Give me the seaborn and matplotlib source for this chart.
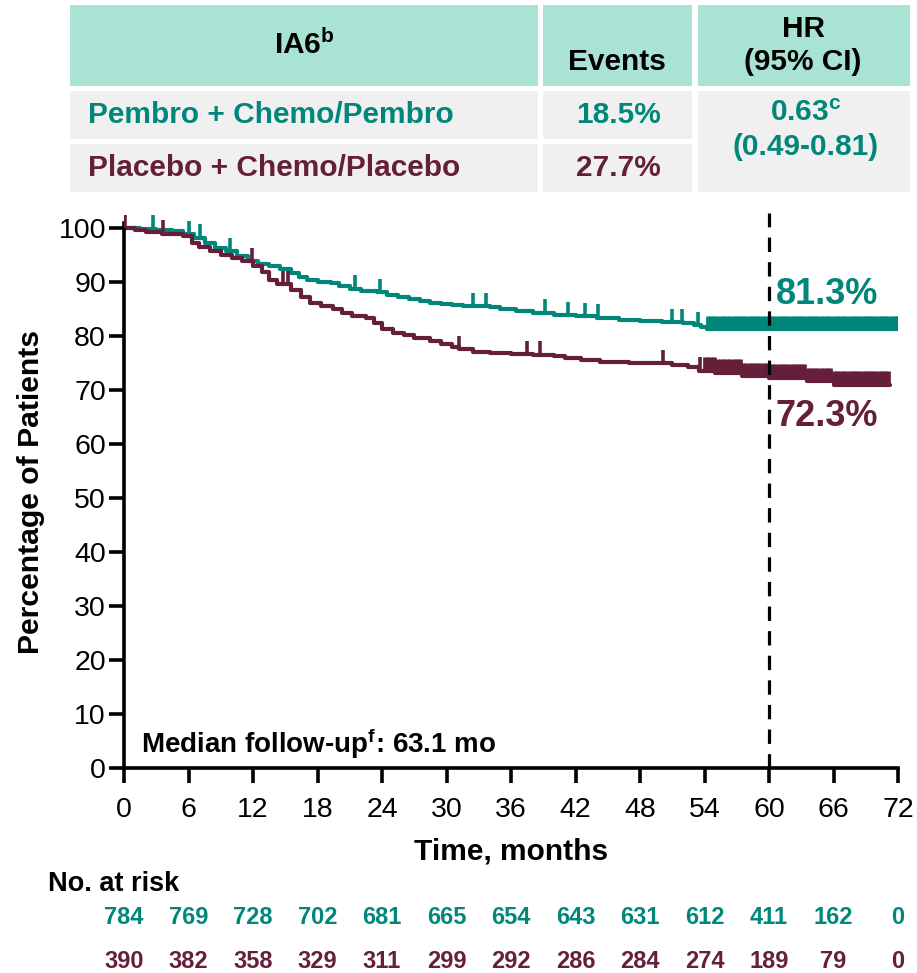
import numpy as np
import pandas as pd
import matplotlib
matplotlib.use("Agg")
import matplotlib.pyplot as plt
import matplotlib.transforms as mtrans
from matplotlib.patches import Rectangle
import seaborn as sns

# ---------------- data ----------------
arms = ["Pembro + Chemo/Pembro", "Placebo + Chemo/Placebo"]
events = ["18.5%", "27.7%"]
hr_text = "0.63"
hr_ci = "(0.49-0.81)"
landmark_labels = ["81.3%", "72.3%"]

pembro_t = [0, 1.5, 3, 4.5, 5.5, 6.5, 7.5, 8.5, 9.5, 10.5, 11.5, 12.5, 13.5, 14.5,
            15.5, 16.3, 17, 18, 19.3, 20, 21, 22, 23.5, 24.5, 25.5, 26.5, 27.5,
            28.5, 29.5, 30.5, 31.5, 32.5, 34, 35, 36.5, 38, 40, 42, 44, 46, 48,
            50, 52, 53, 53.7, 54.2, 72]
pembro_s = [100, 99.9, 99.7, 99.4, 98.9, 98.2, 97.3, 96.4, 95.7, 94.8, 94.0, 93.4,
            93.0, 92.5, 91.7, 90.9, 90.3, 90.1, 89.8, 89.3, 88.8, 88.4, 88.1, 87.6,
            87.2, 86.9, 86.5, 86.2, 86.0, 85.8, 85.6, 85.5, 85.3, 85.0, 84.6, 84.3,
            83.9, 83.7, 83.4, 83.0, 82.8, 82.6, 82.4, 82.0, 81.6, 81.3, 81.3]

placebo_t = [0, 1, 2, 3.5, 5.5, 6.3, 7, 8, 9, 10, 11, 12, 12.8, 13.5, 14.2, 15.5,
             16.5, 17.3, 18.3, 19.4, 20.3, 21.2, 22.5, 23.3, 24, 25, 26, 27, 28.5,
             29.5, 30.5, 31.2, 32.5, 34, 36, 38, 40, 41, 42.5, 44.3, 47, 49, 51,
             52.5, 53.5, 55, 57.5, 60, 63.5, 66, 71.3]
placebo_s = [100, 99.6, 99.3, 99.0, 98.6, 97.2, 96.5, 95.7, 95.0, 94.4, 93.9, 93.0,
             91.8, 90.4, 89.6, 88.6, 87.3, 86.2, 85.6, 85.0, 84.3, 83.7, 83.3, 82.4,
             81.4, 80.6, 80.2, 79.6, 79.0, 78.6, 78.0, 77.6, 77.1, 76.8, 76.6, 76.5,
             76.3, 75.9, 75.5, 75.2, 75.1, 75.0, 74.6, 74.2, 73.6, 73.2, 72.6, 72.3,
             71.6, 71.0, 71.0]

pembro_cens_sparse = [2.7, 6.0, 7.1, 9.9, 21.5, 23.8, 32.5, 33.7, 39.2, 41.3, 42.9,
                      44.1, 51.0, 51.9, 53.4]
pembro_cens_dense = [54.3, 54.6, 54.9, 55.2, 55.5, 55.8, 56.1, 56.4, 56.7, 57.0,
                     57.3, 57.6, 57.9, 58.2, 58.5, 58.8, 59.1, 59.4, 59.7, 60.0,
                     60.3, 60.6, 60.9, 61.2, 61.5, 61.8, 62.1, 62.4, 62.7, 63.0,
                     63.3, 63.6, 63.9, 64.2, 64.5, 64.8, 65.1, 65.4, 65.7, 66.0,
                     66.3, 66.6, 66.9, 67.2, 67.5, 67.8, 68.1, 68.4, 68.7, 69.0,
                     69.3, 69.6, 69.9, 70.2, 70.5, 70.8, 71.1, 71.4, 71.7, 71.9]
placebo_cens_sparse = [0.1, 3.6, 11.9, 14.8, 15.3, 31.2, 37.5, 38.7, 50.1, 53.6]
placebo_cens_dense = [54.0, 54.3, 54.6, 54.9, 55.2, 55.5, 55.8, 56.1, 56.4, 56.7,
                      57.0, 57.3, 57.6, 57.9, 58.2, 58.5, 58.8, 59.1, 59.4, 59.7,
                      60.0, 60.3, 60.6, 60.9, 61.2, 61.5, 61.8, 62.1, 62.4, 62.7,
                      63.0, 63.3, 63.6, 63.9, 64.2, 64.5, 64.8, 65.1, 65.4, 65.7,
                      66.0, 66.3, 66.6, 66.9, 67.2, 67.5, 67.8, 68.1, 68.4, 68.7,
                      69.0, 69.3, 69.6, 69.9, 70.2, 70.5, 70.8, 71.1]

risk_times = [0, 6, 12, 18, 24, 30, 36, 42, 48, 54, 60, 66, 72]
pembro_risk = [784, 769, 728, 702, 681, 665, 654, 643, 631, 612, 411, 162, 0]
placebo_risk = [390, 382, 358, 329, 311, 299, 292, 286, 284, 274, 189, 79, 0]

y_ticks = [0, 10, 20, 30, 40, 50, 60, 70, 80, 90, 100]

# ---------------- style ----------------
TEAL = "#00877A"
MAROON = "#661F3A"
HEAD = "#A8E3D3"
BODY = "#F0F0F0"

sns.set_theme(style="white")
plt.rcParams["font.family"] = ["Liberation Sans", "DejaVu Sans"]
plt.rcParams["mathtext.fontset"] = "custom"
plt.rcParams["mathtext.rm"] = "Liberation Sans:bold"
plt.rcParams["mathtext.bf"] = "Liberation Sans:bold"
plt.rcParams["mathtext.it"] = "Liberation Sans:bold"
plt.rcParams["mathtext.default"] = "bf"

W, H = 917, 973
fig = plt.figure(figsize=(W / 100, H / 100), dpi=100)


def fx(px):
    return px / W


def fy(py):
    return 1 - py / H


# ---------------- top table ----------------
cells = [
    (70, 5, 538, 86, HEAD), (543, 5, 692, 86, HEAD), (698, 5, 910, 86, HEAD),
    (70, 91, 538, 139, BODY), (543, 91, 692, 139, BODY),
    (70, 144, 538, 192, BODY), (543, 144, 692, 192, BODY),
    (698, 91, 910, 192, BODY),
]
for x0, y0, x1, y1, c in cells:
    fig.add_artist(Rectangle((fx(x0), fy(y1)), fx(x1) - fx(x0), fy(y0) - fy(y1),
                             transform=fig.transFigure, facecolor=c,
                             edgecolor="none", zorder=0))

tkw = dict(fontsize=21.5, fontweight="bold", transform=fig.transFigure)
fig.text(fx(304), fy(45), r"IA6$^{\mathbf{b}}$", ha="center", va="center",
         color="black", **tkw)
fig.text(fx(617), fy(62), "Events", ha="center", va="center", color="black", **tkw)
fig.text(fx(803), fy(29), "HR", ha="center", va="center", color="black", **tkw)
fig.text(fx(803), fy(62), "(95% CI)", ha="center", va="center", color="black", **tkw)
fig.text(fx(88), fy(115), arms[0], ha="left", va="center", color=TEAL, **tkw)
fig.text(fx(88), fy(168), arms[1], ha="left", va="center", color=MAROON, **tkw)
fig.text(fx(618), fy(115), events[0], ha="center", va="center", color=TEAL, **tkw)
fig.text(fx(618), fy(168), events[1], ha="center", va="center", color=MAROON, **tkw)
fig.text(fx(806), fy(113), hr_text + r"$^{\mathbf{c}}$", ha="center", va="center",
         color=TEAL, **tkw)
fig.text(fx(806), fy(147), hr_ci, ha="center", va="center", color=TEAL, **tkw)

# ---------------- KM axes ----------------
ax_left, ax_right, ax_top, ax_bottom = 124, 898, 213, 768
ax = fig.add_axes([fx(ax_left), fy(ax_bottom), fx(ax_right) - fx(ax_left),
                   fy(ax_top) - fy(ax_bottom)])
ax.set_facecolor("none")

df = pd.concat([
    pd.DataFrame({"time": pembro_t, "surv": pembro_s, "arm": arms[0]}),
    pd.DataFrame({"time": placebo_t, "surv": placebo_s, "arm": arms[1]}),
])
sns.lineplot(data=df, x="time", y="surv", hue="arm", palette=[TEAL, MAROON],
             estimator=None, sort=False, drawstyle="steps-post", linewidth=3.0,
             legend=False, ax=ax)


def step_value(ts, ss, t):
    i = np.searchsorted(np.asarray(ts), t, side="right") - 1
    return np.asarray(ss)[i]


for ts, ss, cens, col, lw in [
        (pembro_t, pembro_s, pembro_cens_sparse, TEAL, 2.6),
        (pembro_t, pembro_s, pembro_cens_dense, TEAL, 3.4),
        (placebo_t, placebo_s, placebo_cens_sparse, MAROON, 2.6),
        (placebo_t, placebo_s, placebo_cens_dense, MAROON, 3.4)]:
    cens = np.asarray(cens)
    base = step_value(ts, ss, cens)
    ax.vlines(cens, base, base + 2.5, colors=col, linewidth=lw, zorder=3)

ax.axvline(60, color="black", linewidth=2.3, dashes=(4.5, 3.2), zorder=4)

ax.set_xlim(0, 72)
ax.set_ylim(0, 102.8)
ax.set_xticks(risk_times)
ax.set_yticks(y_ticks)
ax.set_xticklabels([str(t) for t in risk_times], fontsize=20.5)
ax.set_yticklabels([str(v) for v in y_ticks], fontsize=20.5)
ax.tick_params(axis="both", direction="out", length=11, width=2.6, color="black",
               labelcolor="black", bottom=True, left=True)
ax.tick_params(axis="x", pad=10)
ax.tick_params(axis="y", pad=2)
for side in ["top", "right"]:
    ax.spines[side].set_visible(False)
for side in ["left", "bottom"]:
    ax.spines[side].set_color("black")
    ax.spines[side].set_linewidth(2.6)
ax.spines["left"].set_bounds(0, 101)
ax.set_xlabel("")
ax.set_ylabel("")

fig.text(fx(31), fy(492), "Percentage of Patients", rotation=90, ha="center",
         va="center", fontsize=21.7, fontweight="bold", color="black")
fig.text(fx(511), fy(852), "Time, months", ha="center", va="center",
         fontsize=21.5, fontweight="bold", color="black")
fig.text(fx(48), fy(884), "No. at risk", ha="left", va="center",
         fontsize=19.5, fontweight="bold", color="black")
ax.text(1.6, 4.4, r"Median follow-up$^{\mathbf{f}}$: 63.1 mo", ha="left",
        va="center", fontsize=20, fontweight="bold", color="black")

ax.text(60.6, step_value(pembro_t, pembro_s, 60) + 6.4, landmark_labels[0],
        ha="left", va="center", fontsize=26, fontweight="bold", color=TEAL)
ax.text(60.6, step_value(placebo_t, placebo_s, 60) - 7.2, landmark_labels[1],
        ha="left", va="center", fontsize=26, fontweight="bold", color=MAROON)

# ---------------- risk table ----------------
blend = mtrans.blended_transform_factory(ax.transData, fig.transFigure)
for t, n in zip(risk_times, pembro_risk):
    ax.text(t, fy(918), str(n), transform=blend, ha="center", va="center",
            fontsize=17, fontweight="bold", color=TEAL, clip_on=False)
for t, n in zip(risk_times, placebo_risk):
    ax.text(t, fy(961), str(n), transform=blend, ha="center", va="center",
            fontsize=17, fontweight="bold", color=MAROON, clip_on=False)

fig.savefig("out.png", dpi=100)
